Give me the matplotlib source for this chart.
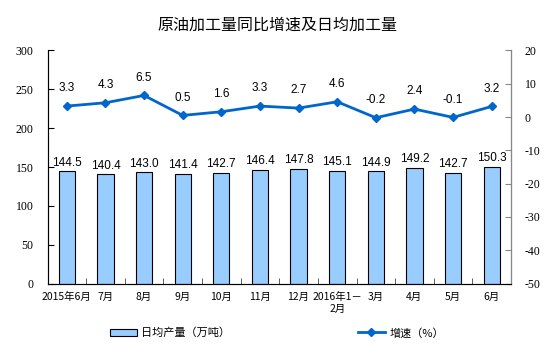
import matplotlib.pyplot as plt
import numpy as np

plt.rcParams['font.family'] = ['Noto Sans CJK SC', 'DejaVu Sans']
plt.rcParams['axes.unicode_minus'] = False

months = ['2015年6月', '7月', '8月', '9月', '10月', '11月', '12月',
          '2016年1－\n2月', '3月', '4月', '5月', '6月']
output = [144.5, 140.4, 143.0, 141.4, 142.7, 146.4, 147.8, 145.1, 144.9, 149.2, 142.7, 150.3]
growth = [3.3, 4.3, 6.5, 0.5, 1.6, 3.3, 2.7, 4.6, -0.2, 2.4, -0.1, 3.2]

fig = plt.figure(figsize=(5.54, 3.53), dpi=100)
ax = fig.add_axes([47.5 / 554, 1 - 283.5 / 353, 463.5 / 554, 233 / 353])
ax2 = ax.twinx()

x = np.arange(len(months))
bars = ax.bar(x, output, width=0.42, color='#99CCFF', edgecolor='black', linewidth=0.8,
              label='日均产量（万吨）', zorder=2)
for xi, v in zip(x, output):
    ax.text(xi, v + 3, f'{v:.1f}', ha='center', va='bottom', fontsize=8.5,
            family='Liberation Sans')

line, = ax2.plot(x, growth, color='#0066CC', marker='D', markersize=4.5, linewidth=2,
                 label='增速（%）', zorder=3)
for xi, v in zip(x, growth):
    ax2.text(xi, v + 3.5, f'{v:.1f}', ha='center', va='bottom', fontsize=8.5,
             family='Liberation Sans')

ax.set_xlim(-0.5, len(months) - 0.5)
ax.set_ylim(0, 300)
ax.set_yticks(range(0, 301, 50))
ax2.set_ylim(-50, 20)
ax2.set_yticks(range(-50, 21, 10))

ax.set_xticks(x)
ax.set_xticklabels(months, fontsize=7.5)
ax.set_xticks(np.arange(-0.5, len(months), 1), minor=True)
ax.tick_params(axis='x', which='major', length=0, pad=6)
ax.tick_params(axis='x', which='minor', direction='in', length=4, color='#444444')
ax.tick_params(axis='y', direction='in', length=4, labelsize=8.5, pad=10)
ax2.tick_params(axis='y', direction='in', length=4, labelsize=8.5, color='#888888', pad=10)
for lab in ax.get_yticklabels() + ax2.get_yticklabels():
    lab.set_family('Liberation Serif')

for s in ['top']:
    ax.spines[s].set_visible(False)
    ax2.spines[s].set_visible(False)
ax2.spines['right'].set_color('#888888')
ax.spines['left'].set_color('#444444')
ax.spines['bottom'].set_color('#444444')

fig.text(0.5, 1 - 25 / 353, '原油加工量同比增速及日均加工量', ha='center', va='center',
         fontsize=11.5)

fig.legend([bars, line], ['日均产量（万吨）', '增速（%）'], loc='center',
           bbox_to_anchor=(0.5, 1 - 333 / 353), ncol=2, frameon=False, fontsize=8,
           columnspacing=11.5, handlelength=2.4, handletextpad=0.4)

fig.savefig('out.png', dpi=100)
